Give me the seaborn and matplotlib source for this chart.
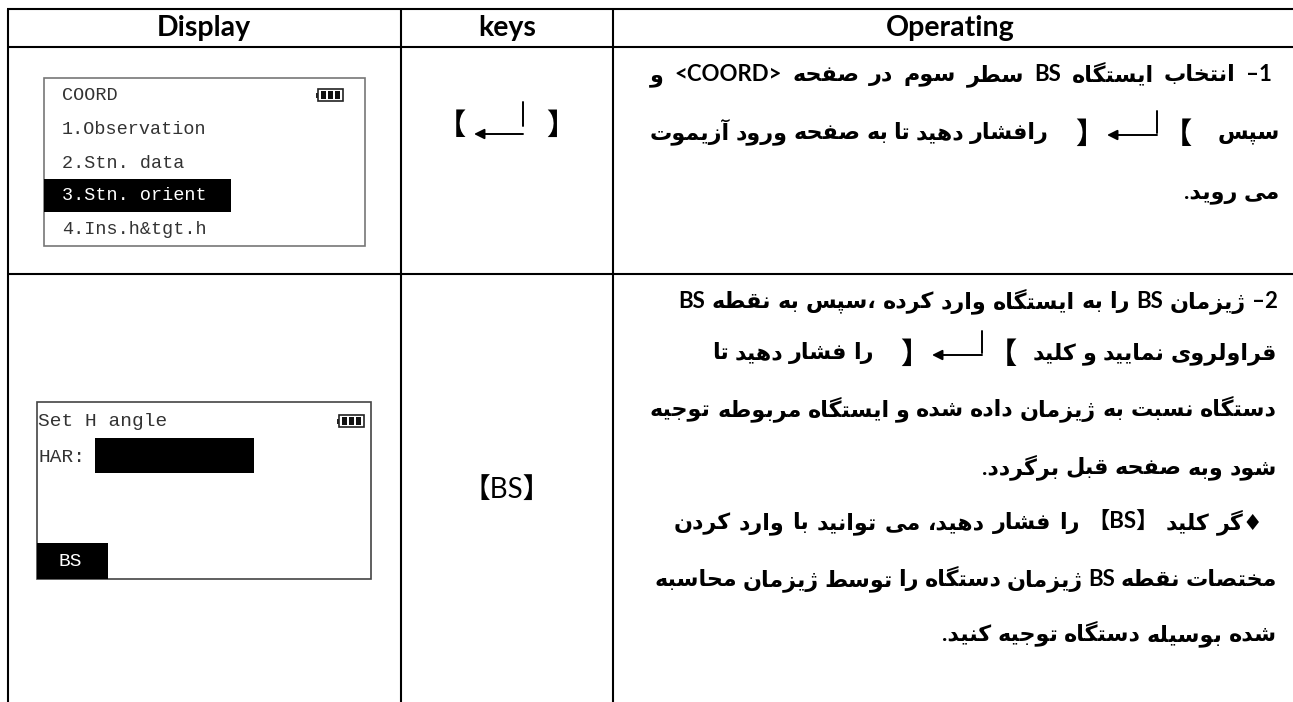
import re

import matplotlib
matplotlib.use("Agg")
import matplotlib.pyplot as plt
from matplotlib.patches import Rectangle
import seaborn as sns

# table text
HEADERS = ["Display", "keys", "Operating"]
SCREEN_1 = ["COORD", "1.Observation", "2.Stn. data", "3.Stn. orient", "4.Ins.h&tgt.h"]
SCREEN_2 = ["Set H angle", "HAR:", "BS"]
KEY_2 = "【BS】"

ROW_1 = [
    ["1– انتخاب ایستگاه BS سطر سوم در صفحه <COORD> و"],
    ["سپس", None, "رافشار دهید تا به صفحه ورود آزیموت"],
    ["می روید."],
]
ROW_2 = [
    ["2– ژیزمان BS را به ایستگاه وارد کرده ،سپس به نقطه BS"],
    ["قراولروی نمایید و کلید", None, "را فشار دهید تا"],
    ["دستگاه نسبت به ژیزمان داده شده و ایستگاه مربوطه توجیه"],
    ["شود وبه صفحه قبل برگردد."],
    ["♦گر کلید 【BS】 را فشار دهید، می توانید با وارد کردن"],
    ["مختصات نقطه BS ژیزمان دستگاه را توسط ژیزمان محاسبه"],
    ["شده بوسیله دستگاه توجیه کنید."],
]

# presentation forms: isolated, final, initial, medial
FORMS = {
    "ا": (0xFE8D, 0xFE8E), "آ": (0xFE81, 0xFE82), "د": (0xFEA9, 0xFEAA),
    "ذ": (0xFEAB, 0xFEAC), "ر": (0xFEAD, 0xFEAE), "ز": (0xFEAF, 0xFEB0),
    "ژ": (0xFB8A, 0xFB8B), "و": (0xFEED, 0xFEEE),
    "ب": (0xFE8F, 0xFE90, 0xFE91, 0xFE92), "پ": (0xFB56, 0xFB57, 0xFB58, 0xFB59),
    "ت": (0xFE95, 0xFE96, 0xFE97, 0xFE98), "ث": (0xFE99, 0xFE9A, 0xFE9B, 0xFE9C),
    "ج": (0xFE9D, 0xFE9E, 0xFE9F, 0xFEA0), "چ": (0xFB7A, 0xFB7B, 0xFB7C, 0xFB7D),
    "ح": (0xFEA1, 0xFEA2, 0xFEA3, 0xFEA4), "خ": (0xFEA5, 0xFEA6, 0xFEA7, 0xFEA8),
    "س": (0xFEB1, 0xFEB2, 0xFEB3, 0xFEB4), "ش": (0xFEB5, 0xFEB6, 0xFEB7, 0xFEB8),
    "ص": (0xFEB9, 0xFEBA, 0xFEBB, 0xFEBC), "ض": (0xFEBD, 0xFEBE, 0xFEBF, 0xFEC0),
    "ط": (0xFEC1, 0xFEC2, 0xFEC3, 0xFEC4), "ظ": (0xFEC5, 0xFEC6, 0xFEC7, 0xFEC8),
    "ع": (0xFEC9, 0xFECA, 0xFECB, 0xFECC), "غ": (0xFECD, 0xFECE, 0xFECF, 0xFED0),
    "ف": (0xFED1, 0xFED2, 0xFED3, 0xFED4), "ق": (0xFED5, 0xFED6, 0xFED7, 0xFED8),
    "ک": (0xFB8E, 0xFB8F, 0xFB90, 0xFB91), "گ": (0xFB92, 0xFB93, 0xFB94, 0xFB95),
    "ل": (0xFEDD, 0xFEDE, 0xFEDF, 0xFEE0), "م": (0xFEE1, 0xFEE2, 0xFEE3, 0xFEE4),
    "ن": (0xFEE5, 0xFEE6, 0xFEE7, 0xFEE8), "ه": (0xFEE9, 0xFEEA, 0xFEEB, 0xFEEC),
    "ی": (0xFBFC, 0xFBFD, 0xFBFE, 0xFBFF),
}
MIRROR = {"<": ">", ">": "<", "【": "】", "】": "【"}


def visual(word):
    # matplotlib has no shaping or bidi, so do it by hand
    out = []
    for i, ch in enumerate(word):
        if ch not in FORMS:
            out.append(ch)
            continue
        before = i > 0 and word[i - 1] in FORMS and len(FORMS[word[i - 1]]) == 4
        after = i + 1 < len(word) and word[i + 1] in FORMS and len(FORMS[ch]) == 4
        idx = {(0, 0): 0, (1, 0): 1, (0, 1): 2, (1, 1): 3}[(int(before), int(after))]
        out.append(chr(FORMS[ch][idx]))
    tokens = re.findall(r"[A-Za-z0-9]+|.", "".join(out))
    return "".join(MIRROR.get(t, t) for t in reversed(tokens))


sns.set_theme(style="white")
plt.rcParams["font.family"] = ["Lato", "DejaVu Sans", "Noto Sans CJK SC"]

fig, ax = plt.subplots(figsize=(12.93, 7.02), dpi=100)
ax.set_position([0, 0, 1, 1])
ax.set_xlim(0, 1293)
ax.set_ylim(702, 0)
ax.set_xticks([])
ax.set_yticks([])
sns.despine(ax=ax, left=True, bottom=True)
ax.spines[["top", "right"]].set_visible(False)

# rules
for y in [9, 47, 274]:
    ax.plot([7, 1293], [y, y], color="black", lw=1.5, solid_capstyle="butt")
for x in [8, 401, 613]:
    ax.plot([x, x], [9, 702], color="black", lw=1.5, solid_capstyle="butt")

for label, x in zip(HEADERS, [204, 507, 950]):
    ax.text(x, 28, label, ha="center", va="center", fontsize=20.5, fontweight="bold", color="black")


def battery(x, y):
    ax.add_patch(Rectangle((x + 2, y - 6), 25, 12, fc="white", ec="#222222", lw=1.2))
    ax.add_patch(Rectangle((x, y - 2.5), 2, 5, fc="#222222", ec="none"))
    for dx in [5, 12, 19]:
        ax.add_patch(Rectangle((x + dx, y - 4), 5, 8, fc="#111111", ec="none"))


def screen_text(x, y, s, color="#333333", size=13.3):
    ax.text(x, y, s, ha="left", va="center", family="Liberation Mono", fontsize=size, color=color)


def arrow_key(xv, xtip, y_top, y_low, y_arrow):
    ax.plot([xv, xv], [y_top, y_low], color="black", lw=1.4)
    ax.annotate("", xy=(xtip, y_arrow), xytext=(xv, y_arrow),
                arrowprops=dict(arrowstyle="-|>", color="black", lw=1.4, mutation_scale=15,
                                shrinkA=0, shrinkB=0))


# first screen
ax.add_patch(Rectangle((44, 78), 321, 168, fc="white", ec="#777777", lw=1.2))
ax.add_patch(Rectangle((44, 179), 187, 33, fc="black", ec="none"))
for text, y in zip(SCREEN_1, [95, 130, 163, 196, 230]):
    screen_text(62, y, text, color="white" if text.startswith("3") else "#333333")
battery(316, 95)

# second screen
ax.add_patch(Rectangle((37, 402), 334, 177, fc="white", ec="#444444", lw=1.2))
ax.add_patch(Rectangle((95, 438), 159, 35, fc="black", ec="none"))
ax.add_patch(Rectangle((37, 543), 71, 36, fc="black", ec="none"))
screen_text(38, 421, SCREEN_2[0], size=14)
screen_text(38, 457, SCREEN_2[1], size=14)
screen_text(59, 561, SCREEN_2[2], color="white", size=14)
battery(337, 421)

# keys column
ax.text(466, 125, "【", ha="right", va="center", fontsize=21, fontweight="bold", color="black")
ax.text(546, 125, "】", ha="left", va="center", fontsize=21, fontweight="bold", color="black")
arrow_key(523, 474, 102, 126, 134)
ax.text(507, 490, KEY_2, ha="center", va="center", fontsize=20, color="black")

FS = 16
WORD_GAP = 6
KEY_SPAN = 143
BASELINE_DROP = 6


def draw_words(text, x_right, y, x_left=None):
    # lays words right to left, spreading them out to x_left when given
    renderer = fig.canvas.get_renderer()
    words = text.split(" ")
    parts = [ax.text(0, y + BASELINE_DROP, visual(w), ha="right", va="baseline", fontsize=FS,
                     fontweight="bold", color="black") for w in words]
    widths = [p.get_window_extent(renderer).width for p in parts]
    gap = WORD_GAP
    if x_left is not None and len(words) > 1:
        gap = (x_right - x_left - sum(widths)) / (len(words) - 1)
    x = x_right
    for p, w in zip(parts, widths):
        p.set_x(x)
        x -= w + gap
    return x + gap


def inline_key(x_right, y):
    # return key inside a running line, brackets open outward like the source
    ax.text(x_right, y + 1, "【", ha="right", va="center", fontsize=21, fontweight="bold", color="black")
    ax.text(x_right - 117, y + 1, "】", ha="left", va="center", fontsize=21, fontweight="bold", color="black")
    arrow_key(x_right - 35, x_right - 85, y - 22, y, y + 2)


def draw_rows(lines, ys, rights, lefts, key_rights):
    for line, y, right, left, key_right in zip(lines, ys, rights, lefts, key_rights):
        x = right
        for part in line:
            if part is None:
                inline_key(key_right, y)
                x = key_right - KEY_SPAN
            else:
                x = draw_words(part, x, y, left)


draw_rows(ROW_1, [75, 133, 192], [1272, 1280, 1280], [650, 650, None], [None, 1192, None])
draw_rows(ROW_2, [302, 353, 410, 468, 523, 580, 635],
          [1278, 1277, 1277, 1277, 1264, 1277, 1277],
          [678, None, 650, None, 674, 655, None],
          [None, 1017, None, None, None, None, None])

fig.savefig("out.png", dpi=100)
